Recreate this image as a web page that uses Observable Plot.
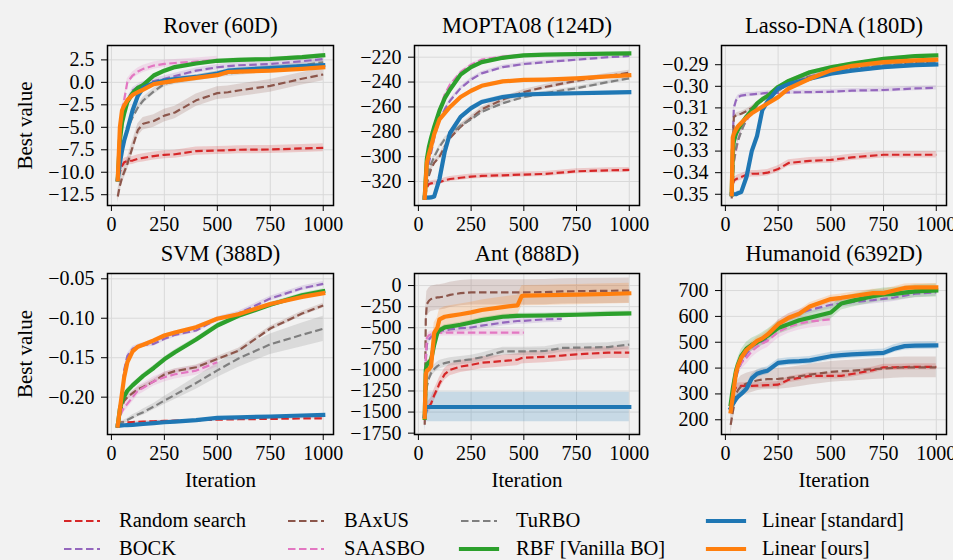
<!DOCTYPE html>
<html>
<head>
<meta charset="utf-8">
<script src="https://cdn.jsdelivr.net/npm/d3@7"></script>
<script src="https://cdn.jsdelivr.net/npm/@observablehq/plot@0.6"></script>
<style>
  html, body { margin: 0; padding: 0; background: #f2f2f2; }
  #fig { position: relative; width: 953px; height: 560px; background: #f2f2f2; font-family: "Liberation Serif", serif; color: #000; overflow: hidden; }
  .panel { position: absolute; }
  .leg { position: absolute; font-size: 20.5px; line-height: 20px; white-space: nowrap; }
  .legsw { position: absolute; }
</style>
</head>
<body>
<div id="fig"></div>
<script>
// ---------- methods (legend order = plot order) ----------
const METHODS = ["Random search", "BOCK", "BAxUS", "SAASBO", "TuRBO", "RBF [Vanilla BO]", "Linear [standard]", "Linear [ours]"];
const COLORS  = ["#d62728", "#9467bd", "#8c564b", "#e377c2", "#7f7f7f", "#2ca02c", "#1f77b4", "#ff7f0e"];
const DASHED  = [true, true, true, true, true, false, false, false];

const X_TICKS = [0, 250, 500, 750, 1000];

// ---------- Rover (60D) ----------
const roverX = [30, 40, 50, 60, 75, 100, 125, 150, 200, 250, 300, 400, 500, 550, 600, 750, 900, 1000];
const roverY = [
  [-10.5, -10.0, -9.3, -8.9, -8.75, -8.7, -8.5, -8.4, -8.2, -8.06, -8.0, -7.65, -7.58, -7.55, -7.5, -7.47, -7.35, -7.28],
  [-10.5, -7.0, -4.5, -3.0, -2.0, -0.9, -0.5, -0.2, 0.15, 0.4, 0.7, 1.3, 1.68, 1.8, 1.9, 2.04, 2.35, 2.6],
  [-12.7, -11.5, -10.6, -10.0, -9.1, -7.2, -5.3, -4.6, -4.3, -3.7, -3.35, -2.0, -1.2, -1.1, -0.91, -0.39, 0.4, 0.87],
  [-10.5, -6.0, -3.0, -2.0, 0.0, 0.76, 1.2, 1.5, 1.87, 2.05, 2.15, 2.3, 2.5, null, null, null, null, null],
  [-10.5, -9.0, -7.5, -6.5, -5.2, -3.88, -2.8, -2.02, -1.0, -0.17, 0.1, 0.5, 0.9, 1.0, 1.1, 1.5, 1.9, 2.24],
  [-10.8, -6.5, -4.5, -3.5, -2.2, -1.2, -0.6, -0.3, 0.76, 1.3, 1.7, 2.1, 2.4, 2.45, 2.5, 2.6, 2.8, 3.0],
  [-10.8, -9.0, -7.6, -6.5, -5.3, -3.1, -1.5, -0.6, -0.1, 0.2, 0.35, 0.6, 0.98, 1.3, 1.4, 1.6, 1.8, 1.9],
  [-10.8, -5.0, -3.13, -2.6, -2.0, -1.4, -1.1, -0.8, -0.2, 0.0, 0.2, 0.5, 0.8, 1.15, 1.2, 1.3, 1.5, 1.68]
];
const roverErr = [0.45, 0.3, 0.7, 0.4, 0.35, 0.2, 0.25, 0.2];

// ---------- MOPTA08 (124D) ----------
const moptaX = [30, 40, 50, 60, 75, 100, 125, 150, 200, 250, 300, 400, 500, 600, 750, 900, 1000];
const moptaY = [
  [-333, -325, -322, -321.5, -321, -320.5, -319, -318, -317, -316, -315.5, -315, -314.4, -313.9, -311.8, -311, -310.7],
  [-333, -315, -305, -297, -285, -270, -262, -255, -245, -238, -233, -228, -225.5, -224, -222, -220, -219],
  [-333, -322, -315, -310, -305, -300, -292, -285, -276, -269, -262, -254, -248, -244, -239, -235, -232.5],
  [-333, -310, -298, -288, -275, -262, -250, -242, -232, -226, -222, -219.5, -218.5, null, null, null, null],
  [-333, -320, -312, -306, -300, -292, -286, -282, -275, -270, -264, -257, -252, -249, -245, -240, -237],
  [-333, -302, -292, -285, -276, -263, -253, -246, -234, -228, -224, -220.5, -218.5, -218, -217.6, -217.2, -217],
  [-333, -333, -333, -332.8, -332, -318, -296, -281, -268, -261, -256, -252, -250, -249.5, -249, -248.5, -248.2],
  [-333, -305, -298, -292, -282, -270, -265, -260, -252, -247, -243, -239.5, -238.3, -238, -237, -235.5, -234.5]
];
const moptaErr = [2, 1.5, 2, 1, 1.5, 1, 1.5, 1];

// ---------- Lasso-DNA (180D) ----------
const lassoX = [30, 35, 40, 50, 60, 75, 100, 125, 150, 175, 200, 250, 300, 400, 500, 600, 750, 900, 1000];
const lassoY = [
  [-0.35, -0.346, -0.3437, -0.343, -0.3425, -0.342, -0.341, -0.3405, -0.3405, -0.3403, -0.340, -0.3383, -0.3355, -0.3345, -0.3341, -0.3329, -0.3317, -0.3317, -0.3317],
  [-0.35, -0.325, -0.31, -0.3066, -0.305, -0.3043, -0.3039, -0.3037, -0.3035, -0.3033, -0.303, -0.303, -0.3028, -0.3027, -0.3025, -0.302, -0.3017, -0.301, -0.3007],
  [-0.352, -0.33, -0.3143, -0.3135, -0.313, -0.3127, -0.3115, -0.31, -0.308, -0.3065, -0.305, -0.302, -0.2985, -0.2955, -0.2935, -0.292, -0.2904, -0.2893, -0.2888],
  [-0.35, -0.34, -0.335, -0.33, -0.325, -0.32, -0.316, -0.312, -0.309, -0.306, -0.304, -0.301, -0.2985, -0.2955, -0.2935, null, null, null, null],
  [-0.35, -0.345, -0.3349, -0.329, -0.325, -0.321, -0.315, -0.311, -0.308, -0.306, -0.305, -0.302, -0.299, -0.2955, -0.2935, -0.2918, -0.2902, -0.2892, -0.2887],
  [-0.35, -0.33, -0.3255, -0.322, -0.32, -0.3174, -0.314, -0.3112, -0.308, -0.306, -0.3045, -0.3003, -0.2975, -0.2935, -0.2912, -0.2895, -0.2873, -0.286, -0.2857],
  [-0.35, -0.35, -0.35, -0.35, -0.3495, -0.349, -0.342, -0.330, -0.323, -0.311, -0.307, -0.301, -0.299, -0.2965, -0.2942, -0.2928, -0.2911, -0.2902, -0.2899],
  [-0.35, -0.3236, -0.322, -0.32, -0.3185, -0.317, -0.3145, -0.3125, -0.311, -0.3095, -0.308, -0.305, -0.301, -0.2965, -0.2926, -0.2905, -0.2888, -0.288, -0.2877]
];
const lassoErr = [0.0015, 0.001, 0.001, 0.001, 0.001, 0.0007, 0.001, 0.0008];

// ---------- SVM (388D) ----------
const svmX = [30, 40, 50, 60, 75, 100, 125, 150, 200, 250, 300, 400, 500, 600, 750, 900, 1000];
const svmY = [
  [-0.236, -0.2325, -0.232, -0.232, -0.2318, -0.2315, -0.2313, -0.231, -0.2305, -0.230, -0.2298, -0.2292, -0.2285, -0.228, -0.2275, -0.227, -0.2268],
  [-0.236, -0.22, -0.195, -0.166, -0.148, -0.1388, -0.136, -0.134, -0.1324, -0.126, -0.121, -0.1155, -0.101, -0.094, -0.075, -0.062, -0.0564],
  [-0.235, -0.225, -0.212, -0.205, -0.2001, -0.195, -0.19, -0.187, -0.18, -0.1713, -0.167, -0.1621, -0.1515, -0.141, -0.113, -0.094, -0.0839],
  [-0.236, -0.225, -0.218, -0.213, -0.2085, -0.2, -0.1916, -0.188, -0.18, -0.1747, -0.171, -0.1663, -0.1557, null, null, null, null],
  [-0.236, -0.233, -0.232, -0.231, -0.229, -0.2254, -0.222, -0.219, -0.212, -0.2043, -0.197, -0.182, -0.166, -0.151, -0.133, -0.121, -0.1134],
  [-0.236, -0.215, -0.205, -0.199, -0.192, -0.185, -0.179, -0.173, -0.163, -0.152, -0.143, -0.127, -0.1092, -0.097, -0.083, -0.071, -0.0657],
  [-0.236, -0.236, -0.2358, -0.2356, -0.2353, -0.235, -0.2345, -0.234, -0.233, -0.2318, -0.231, -0.229, -0.2262, -0.2255, -0.2245, -0.2232, -0.2224],
  [-0.236, -0.215, -0.195, -0.175, -0.156, -0.142, -0.136, -0.1335, -0.128, -0.1219, -0.118, -0.1113, -0.1007, -0.095, -0.082, -0.073, -0.0683]
];
const svmErr = [0.0008, 0.003, 0.003, 0.006,
  [0.002, 0.002, 0.002, 0.002, 0.002, 0.003, 0.003, 0.004, 0.004, 0.005, 0.006, 0.008, 0.009, 0.011, 0.013, 0.015, 0.016],
  0.003, 0.0008, 0.002];

// ---------- Ant (888D) ----------
const antX = [30, 35, 40, 50, 60, 75, 90, 100, 125, 150, 200, 250, 300, 400, 470, 490, 500, 600, 680, 750, 900, 1000];
const antY = [
  [-1560, -1500, -1460, -1430, -1400, -1300, -1220, -1160, -1050, -1000, -960, -940, -915, -895, -880, -860, -856, -845, -830, -815, -796, -796],
  [-1550, -900, -700, -640, -610, -580, -550, -540, -530, -520, -505, -497, -475, -440, -420, -418, -418, -400, -395, null, null, null],
  [-1650, -400, -220, -180, -159, -150, -140, -139, -130, -110, -90, -80, -80, -80, -80, -80, -80, -78, -70, -67, -62, -60],
  [-1550, -850, -620, -590, -580, -570, -565, -560, -558, -557, -557, -557, -557, -557, -557, -557, -557, null, null, null, null, null],
  [-1500, -1350, -1200, -1100, -1040, -990, -955, -940, -920, -905, -890, -875, -850, -780, -780, -780, -780, -776, -740, -736, -729, -700],
  [-1570, -1000, -935, -910, -880, -700, -560, -530, -495, -485, -465, -438, -410, -370, -360, -358, -358, -355, -350, -346, -335, -331],
  [-1550, -1450, -1440, -1440, -1440, -1440, -1440, -1440, -1440, -1440, -1440, -1440, -1440, -1440, -1440, -1440, -1440, -1440, -1440, -1440, -1440, -1440],
  [-1560, -1050, -1010, -990, -960, -560, -500, -400, -370, -360, -340, -318, -290, -255, -235, -125, -120, -115, -110, -108, -100, -92]
];
const antErr = [70, 40, 150, 40, 50, 30, 175, 120];

// ---------- Humanoid (6392D) ----------
const humX = [25, 35, 50, 60, 75, 100, 125, 150, 175, 200, 250, 300, 350, 400, 500, 550, 600, 700, 750, 800, 850, 900, 1000];
const humY = [
  [260, 300, 325, 330, 331, 331, 331, 332, 333, 334, 336, 355, 362, 370, 370, 370, 377, 392, 403, 403, 404, 405, 405],
  [240, 300, 360, 390, 420, 455, 480, 495, 503, 515, 570, 595, 612, 625, 645, 650, 655, 663, 668, 673, 680, 688, 693],
  [180, 230, 300, 315, 330, 340, 346, 352, 356, 357, 358, 362, 368, 375, 385, 388, 390, 396, 398, 401, 403, 403, 403],
  [240, 330, 380, 400, 420, 440, 465, 482, 495, 505, 540, 560, 572, 580, 589, null, null, null, null, null, null, null, null],
  null,
  [260, 320, 388, 415, 447, 475, 490, 500, 512, 525, 555, 570, 585, 595, 615, 650, 660, 678, 685, 687, 692, 697, 700],
  [245, 260, 280, 290, 300, 320, 360, 378, 385, 390, 420, 425, 427, 430, 446, 450, 453, 457, 459, 475, 485, 487, 488],
  [232, 290, 380, 410, 440, 470, 487, 505, 515, 530, 570, 595, 610, 638, 667, 672, 678, 690, 690, 700, 710, 712, 712]
];
const humErr = [12, 15, 40, 25, 0, 25, 15, 15];

// ---------- panel specs ----------
const PANELS = [
  {title: "Rover (60D)", X: roverX, Y: roverY, E: roverErr, yDomain: [-13.7, 4.1],
   yTicks: [2.5, 0, -2.5, -5, -7.5, -10, -12.5], fmt: ".1f", col: 0, row: 0},
  {title: "MOPTA08 (124D)", X: moptaX, Y: moptaY, E: moptaErr, yDomain: [-339.3, -210.6],
   yTicks: [-220, -240, -260, -280, -300, -320], fmt: "d", col: 1, row: 0},
  {title: "Lasso-DNA (180D)", X: lassoX, Y: lassoY, E: lassoErr, yDomain: [-0.3552, -0.2811],
   yTicks: [-0.29, -0.30, -0.31, -0.32, -0.33, -0.34, -0.35], fmt: ".2f", col: 2, row: 0},
  {title: "SVM (388D)", X: svmX, Y: svmY, E: svmErr, yDomain: [-0.2473, -0.0433],
   yTicks: [-0.05, -0.10, -0.15, -0.20], fmt: ".2f", col: 0, row: 1},
  {title: "Ant (888D)", X: antX, Y: antY, E: antErr, yDomain: [-1766, 143],
   yTicks: [0, -250, -500, -750, -1000, -1250, -1500, -1750], fmt: "d", col: 1, row: 1},
  {title: "Humanoid (6392D)", X: humX, Y: humY, E: humErr, yDomain: [143, 766],
   yTicks: [200, 300, 400, 500, 600, 700], fmt: "d", col: 2, row: 1}
];

// layout (page pixels)
const COLS = [
  {left: 0, width: 340, ml: 107, mr: 7},
  {left: 340, width: 307, ml: 74, mr: 8},
  {left: 647, width: 306, ml: 74, mr: 7}
];
const ROWS = [
  {top: 0, height: 230, mt: 45, mb: 25},
  {top: 230, height: 270, mt: 43, mb: 66}
];

function rowsFor(X, Y, E) {
  const rows = [];
  Y.forEach((ys, m) => {
    if (!ys) return;
    ys.forEach((v, i) => {
      if (v == null) return;
      const e = Array.isArray(E[m]) ? E[m][i] : E[m];
      rows.push({m, x: X[i], y: v, lo: v - e, hi: v + e});
    });
  });
  return rows;
}

const fig = document.getElementById("fig");

for (const p of PANELS) {
  const c = COLS[p.col], r = ROWS[p.row];
  const rows = rowsFor(p.X, p.Y, p.E);
  const marks = [
    Plot.gridX({ticks: X_TICKS, stroke: "#d9d9d9", strokeOpacity: 1, strokeWidth: 1}),
    Plot.gridY({ticks: p.yTicks, stroke: "#d9d9d9", strokeOpacity: 1, strokeWidth: 1})
  ];
  for (let m = 0; m < METHODS.length; m++) {
    const d = rows.filter(q => q.m === m);
    if (!d.length) continue;
    marks.push(Plot.areaY(d, {x: "x", y1: "lo", y2: "hi", fill: COLORS[m], fillOpacity: 0.2}));
  }
  for (let m = 0; m < METHODS.length; m++) {
    const d = rows.filter(q => q.m === m);
    if (!d.length) continue;
    marks.push(Plot.lineY(d, {
      x: "x", y: "y", stroke: COLORS[m],
      strokeWidth: DASHED[m] ? 2.2 : 4.2,
      strokeDasharray: DASHED[m] ? "7.5,3.5" : null,
      strokeLinecap: DASHED[m] ? "butt" : "square",
      strokeLinejoin: "round"
    }));
  }
  marks.push(Plot.frame({stroke: "black", strokeWidth: 1.5}));
  marks.push(Plot.axisX({ticks: X_TICKS, tickFormat: d3.format("d"), tickSize: 6, tickPadding: 5, fontSize: 20, label: null}));
  marks.push(Plot.axisY({ticks: p.yTicks, tickFormat: d3.format(p.fmt), tickSize: 6, tickPadding: 7, fontSize: 20, label: null}));
  marks.push(Plot.text([p.title], {text: d => d, frameAnchor: "top", dy: -20, fontSize: 22.5, lineAnchor: "middle", textAnchor: "middle"}));
  if (p.col === 0) {
    marks.push(Plot.text(["Best value"], {text: d => d, frameAnchor: "left", dx: -82, rotate: -90, fontSize: 21, lineAnchor: "middle", textAnchor: "middle"}));
  }
  if (p.row === 1) {
    marks.push(Plot.text(["Iteration"], {text: d => d, frameAnchor: "bottom", dy: 46, fontSize: 21, lineAnchor: "middle", textAnchor: "middle"}));
  }
  const svg = Plot.plot({
    width: c.width, height: r.height,
    marginLeft: c.ml, marginRight: c.mr, marginTop: r.mt, marginBottom: r.mb,
    x: {domain: [-18.5, 1048.5]},
    y: {domain: p.yDomain},
    style: {background: "transparent", fontFamily: "Liberation Serif", fontSize: "20px", color: "black", overflow: "visible"},
    marks
  });
  const div = document.createElement("div");
  div.className = "panel";
  div.style.left = c.left + "px";
  div.style.top = r.top + "px";
  div.style.width = c.width + "px";
  div.style.height = r.height + "px";
  div.appendChild(svg);
  fig.appendChild(div);
}

// ---------- legend ----------
const LEG_ORDER = [0, 1, 2, 3, 4, 5, 6, 7]; // column-wise, 2 rows
const LEG_LINE_X = [64, 288, 461, 708];
const LEG_TEXT_X = [119, 344, 516, 762];
const LEG_ROW_Y = [521, 549];
LEG_ORDER.forEach((m, k) => {
  const col = Math.floor(k / 2), row = k % 2;
  const y = LEG_ROW_Y[row];
  const ns = "http://www.w3.org/2000/svg";
  const sw = document.createElementNS(ns, "svg");
  sw.setAttribute("width", 48); sw.setAttribute("height", 10);
  sw.setAttribute("class", "legsw");
  sw.style.left = (LEG_LINE_X[col] - 4) + "px";
  sw.style.top = (y - 5) + "px";
  const ln = document.createElementNS(ns, "line");
  ln.setAttribute("x1", 4); ln.setAttribute("x2", 40);
  ln.setAttribute("y1", 5); ln.setAttribute("y2", 5);
  ln.setAttribute("stroke", COLORS[m]);
  ln.setAttribute("stroke-width", DASHED[m] ? 2.2 : 4.2);
  if (DASHED[m]) ln.setAttribute("stroke-dasharray", "7.5,3.5");
  else ln.setAttribute("stroke-linecap", "square");
  sw.appendChild(ln);
  fig.appendChild(sw);
  const t = document.createElement("div");
  t.className = "leg";
  t.textContent = METHODS[m];
  t.style.left = LEG_TEXT_X[col] + "px";
  t.style.top = (y - 11) + "px";
  fig.appendChild(t);
});
</script>
</body>
</html>
